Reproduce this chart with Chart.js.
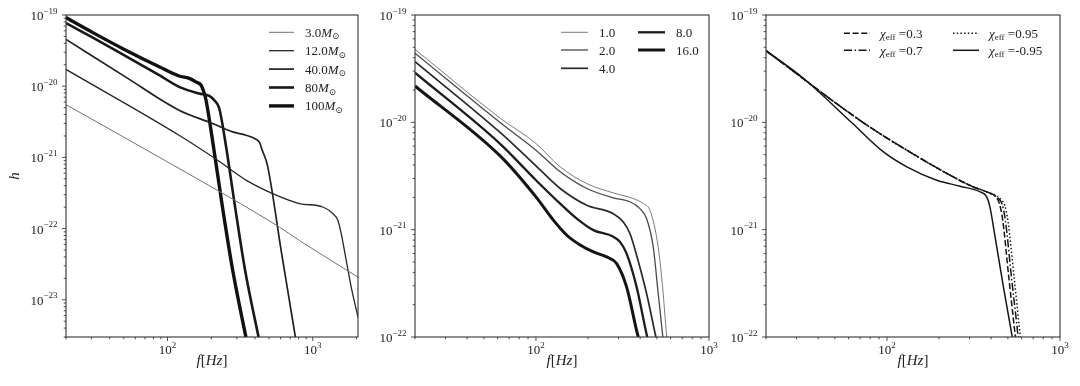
<!DOCTYPE html>
<html>
<head>
<meta charset="utf-8">
<script src="https://cdn.jsdelivr.net/npm/chart.js@4"></script>
<style>
  html, body { margin: 0; padding: 0; background: #fff; }
  #wrap { position: relative; width: 1080px; height: 386px; }
  canvas { position: absolute; top: 0; }
</style>
</head>
<body>
<div id="wrap">
  <canvas id="c1" width="360" height="386" style="left:0px"></canvas>
  <canvas id="c2" width="360" height="386" style="left:360px"></canvas>
  <canvas id="c3" width="360" height="386" style="left:720px"></canvas>
</div>
<script>
// ---- panel 1 : total mass ----
const massLabels = ['3.0', '12.0', '40.0', '80', '100'];
const f_m3   = [20, 120, 589, 809, 2048];
const h_m3   = [5.5e-21, 7.0e-22, 1.05e-22, 6.8e-23, 2.08e-23];
const f_m12  = [20, 120, 204, 266, 347, 530, 809, 1172, 1374, 1487, 1570, 1698, 1839, 2048];
const h_m12  = [1.72e-20, 2.05e-21, 1.02e-21, 7.0e-22, 4.8e-22, 3.1e-22, 2.25e-22, 2.01e-22, 1.63e-22, 1.31e-22, 8.5e-23, 3.6e-23, 1.51e-23, 5.7e-24];
const f_m40  = [20, 51.6, 120, 204, 281, 347, 407, 429, 449, 487, 607, 760, 835];
const h_m40  = [4.55e-20, 1.34e-20, 4.6e-21, 3.0e-21, 2.28e-21, 2.05e-21, 1.8e-21, 1.64e-21, 1.26e-21, 7.8e-22, 4.8e-23, 2.95e-24, 9.5e-25];
const f_m80  = [20, 30.4, 51.6, 87.7, 120, 165, 194, 212, 227, 249, 292, 342, 424, 460];
const h_m80  = [7.7e-20, 4.85e-20, 2.65e-20, 1.43e-20, 9.8e-21, 7.9e-21, 7.3e-21, 6.2e-21, 4.9e-21, 1.74e-21, 2.0e-22, 2.6e-23, 2.95e-24, 1.3e-24];
const f_m100 = [20, 30.4, 51.6, 87.7, 120, 141, 157, 170, 176, 184, 204, 239, 281, 347, 380];
const h_m100 = [9.2e-20, 5.7e-20, 3.2e-20, 1.87e-20, 1.39e-20, 1.29e-20, 1.15e-20, 1.04e-20, 8.8e-21, 6.4e-21, 1.74e-21, 2.0e-22, 2.6e-23, 2.95e-24, 1.2e-24];

// ---- panel 2 : mass ratio ----
const ratioLabels = ['1.0', '2.0', '4.0', '8.0', '16.0'];
const f_q1  = [20, 62.3, 100, 138, 196.7, 280, 365, 416.9, 455.5, 497.6, 520, 543.5, 568, 580.7];
const h_q1  = [4.78e-20, 1.09e-20, 6.35e-21, 3.85e-21, 2.69e-21, 2.2e-21, 1.95e-21, 1.75e-21, 1.52e-21, 8.6e-22, 5.19e-22, 2.54e-22, 1.07e-22, 8.1e-23];
const f_q2  = [20, 62.3, 100, 138, 196.7, 280, 349.3, 398.9, 435.8, 476.1, 508.7, 538.7, 548.3];
const h_q2  = [4.40e-20, 9.9e-21, 5.5e-21, 3.46e-21, 2.42e-21, 1.98e-21, 1.82e-21, 1.57e-21, 1.27e-21, 6.9e-22, 2.54e-22, 1.07e-22, 8.1e-23];
const f_q4  = [20, 62.3, 100, 138, 196.7, 280, 319.8, 349.3, 381.6, 435.8, 493.3, 508.7];
const h_q4  = [3.67e-20, 8.0e-21, 3.93e-21, 2.42e-21, 1.69e-21, 1.41e-21, 1.18e-21, 9.2e-22, 5.78e-22, 2.54e-22, 1.0e-22, 8.1e-23];
const f_q8  = [20, 62.3, 100, 138, 172.2, 214.8, 280, 306, 334, 381.6, 439.6, 455.5];
const h_q8  = [2.9e-20, 6.27e-21, 2.89e-21, 1.75e-21, 1.27e-21, 9.9e-22, 8.6e-22, 7.69e-22, 5.98e-22, 2.93e-22, 1.0e-22, 8.1e-23];
const f_q16 = [20, 62.3, 100, 126.4, 150.8, 180, 214.8, 256.4, 292.7, 334, 390, 407.8];
const h_q16 = [2.18e-20, 4.84e-21, 2.02e-21, 1.22e-21, 8.87e-22, 7.2e-22, 6.2e-22, 5.57e-22, 4.83e-22, 2.93e-22, 1.0e-22, 8.1e-23];

// ---- panel 3 : effective spin ----
const chiLabels = ['0.3', '0.7', '0.95', '-0.95'];
// the three positive spins share the early part
const f_chiBase = [20, 73.2, 130.3, 241.7, 316, 377.4];
const h_chiBase = [4.65e-20, 9.9e-21, 5.5e-21, 3.1e-21, 2.5e-21, 2.25e-21];
const f_chi03  = [421.6, 446.6, 466.9, 505.6, 552.4, 562.3];
const h_chi03  = [2.05e-21, 1.75e-21, 1.22e-21, 3.63e-22, 1.0e-22, 7.8e-23];
const f_chi07  = [440.7, 462.7, 483.7, 523.9, 572.3, 580.1];
const h_chi07  = [1.95e-21, 1.73e-21, 1.21e-21, 3.63e-22, 1.0e-22, 7.8e-23];
const f_chi095 = [460.8, 479.4, 501.1, 542.7, 590.3, 600.9];
const h_chi095 = [1.88e-21, 1.69e-21, 1.18e-21, 3.63e-22, 1.0e-22, 7.8e-23];
const f_chiNeg = [20, 33.0, 62.7, 95.5, 130.3, 194.1, 264.8, 345.4, 377.4, 393.6, 412.4, 471, 526.1, 542.7];
const h_chiNeg = [4.65e-20, 2.56e-20, 9.9e-21, 5.3e-21, 3.85e-21, 2.89e-21, 2.54e-21, 2.25e-21, 2.02e-21, 1.63e-21, 1.06e-21, 2.93e-22, 1.07e-22, 8.1e-23];

const SERIF = '"Liberation Serif", "DejaVu Serif", serif';
const INK = '#222';

const isDecade = v => Math.abs(Math.log10(v) - Math.round(Math.log10(v))) < 1e-6;

// 1..9 x 10^n inside [min, max]
function logTicks(min, max) {
    const out = [];
    for (let e = Math.floor(Math.log10(min)) - 1; e <= Math.ceil(Math.log10(max)); e++) {
        for (let m = 1; m < 10; m++) {
            const v = m * Math.pow(10, e);
            if (v >= min * 0.9999 && v <= max * 1.0001) out.push({ value: v });
        }
    }
    return out;
}

// "10" with a raised exponent, like mathtext
function powerLabel(ctx, v, x, y, align) {
    const exp = String(Math.round(Math.log10(v))).replace('-', '\u2212');
    ctx.font = '13px ' + SERIF;
    const wBase = ctx.measureText('10').width;
    ctx.font = '9px ' + SERIF;
    const wExp = ctx.measureText(exp).width;
    const x0 = align === 'right' ? x - wBase - wExp : x - (wBase + wExp) / 2;
    ctx.font = '13px ' + SERIF;
    ctx.fillText('10', x0, y);
    ctx.font = '9px ' + SERIF;
    ctx.fillText(exp, x0 + wBase, y - 6.5);
}

// mixed italic / upright / subscript text, left edge at x, y = visual middle
function drawRich(ctx, segs, x, y, size) {
    size = size || 13;
    ctx.fillStyle = INK;
    ctx.textBaseline = 'alphabetic';
    ctx.textAlign = 'left';
    segs.forEach(([txt, kind]) => {
        if (kind === 's') {
            ctx.font = Math.round(size * 0.7) + 'px ' + SERIF;
            ctx.fillText(txt, x, y + size * 0.54);
        } else {
            ctx.font = (kind === 'i' ? 'italic ' : '') + size + 'px ' + SERIF;
            ctx.fillText(txt, x, y + size * 0.35);
        }
        x += ctx.measureText(txt).width;
    });
    return x;
}

function richWidth(ctx, segs, size) {
    ctx.save();
    const end = drawRich({ fillText() {}, measureText: t => ctx.measureText(t), set font(f) { ctx.font = f; } }, segs, 0, 0, size);
    ctx.restore();
    return end;
}

const xTitle = [['f', 'i'], ['[', 'n'], ['Hz', 'i'], [']', 'n']];

// tick marks (long for decades), decade labels, x title and the box round the plot
const axesPlugin = {
    id: 'axesBox',
    afterDatasetsDraw(chart) {
        const { ctx, chartArea: a, scales } = chart;
        ctx.save();
        ctx.strokeStyle = INK;
        ctx.lineWidth = 0.8;
        ctx.beginPath();
        scales.x.ticks.forEach(t => {
            const px = scales.x.getPixelForValue(t.value);
            const len = isDecade(t.value) ? 4 : 2.3;
            ctx.moveTo(px, a.bottom); ctx.lineTo(px, a.bottom + len);
        });
        scales.y.ticks.forEach(t => {
            const py = scales.y.getPixelForValue(t.value);
            const len = isDecade(t.value) ? 4 : 2.3;
            ctx.moveTo(a.left, py); ctx.lineTo(a.left - len, py);
        });
        ctx.stroke();
        ctx.lineWidth = 1.1;
        ctx.strokeStyle = '#333';
        ctx.strokeRect(a.left, a.top, a.right - a.left, a.bottom - a.top);

        ctx.fillStyle = INK;
        ctx.textBaseline = 'alphabetic';
        ctx.textAlign = 'left';
        scales.x.ticks.filter(t => isDecade(t.value)).forEach(t => {
            powerLabel(ctx, t.value, scales.x.getPixelForValue(t.value), a.bottom + 17, 'center');
        });
        scales.y.ticks.filter(t => isDecade(t.value)).forEach(t => {
            powerLabel(ctx, t.value, a.left - 8.5, scales.y.getPixelForValue(t.value) + 5, 'right');
        });

        const w = richWidth(ctx, xTitle, 15);
        drawRich(ctx, xTitle, (a.left + a.right) / 2 - w / 2, a.bottom + 23, 15);
        ctx.restore();
    }
};

// matplotlib-like legend inside the axes
const legendLayout = {
    c1: { len: 25, gap: 11, items: [0, 1, 2, 3, 4].map(i => ({ ds: i, x: 269, y: 32.3 + 18.4 * i })) },
    c2: { len: 27, gap: 11, items: [
        { ds: 0, x: 201, y: 32.3 }, { ds: 1, x: 201, y: 50 }, { ds: 2, x: 201, y: 68.3 },
        { ds: 3, x: 278, y: 32.3 }, { ds: 4, x: 278, y: 50 }] },
    c3: { len: 26, gap: 10, items: [
        { ds: 0, x: 124, y: 33.3 }, { ds: 1, x: 124, y: 50.3 },
        { ds: 2, x: 233, y: 33.3 }, { ds: 3, x: 233, y: 50.3 }] }
};

const legendPlugin = {
    id: 'mplLegend',
    afterDraw(chart) {
        const lay = legendLayout[chart.canvas.id];
        const ctx = chart.ctx;
        lay.items.forEach(it => {
            const ds = chart.data.datasets[it.ds];
            ctx.save();
            ctx.strokeStyle = ds.borderColor;
            ctx.lineWidth = ds.borderWidth;
            ctx.setLineDash(ds.borderDash || []);
            ctx.beginPath();
            ctx.moveTo(it.x, it.y);
            ctx.lineTo(it.x + lay.len, it.y);
            ctx.stroke();
            ctx.restore();
            drawRich(ctx, ds.rich, it.x + lay.len + lay.gap, it.y, 13);
        });
    }
};

function makeChart(id, cfg) {
    const titleFont = { family: SERIF, size: 15, style: 'italic' };
    return new Chart(document.getElementById(id), {
        type: 'line',
        data: {
            datasets: cfg.series.map(s => ({
                label: s.label,
                rich: s.rich,
                data: s.f.map((f, i) => ({ x: f, y: s.h[i] })),
                borderColor: s.color,
                borderWidth: s.width,
                borderDash: s.dash || [],
                pointRadius: 0,
                fill: false,
                cubicInterpolationMode: 'monotone'
            }))
        },
        options: {
            responsive: false,
            animation: false,
            events: [],
            layout: { padding: cfg.pad },
            plugins: { legend: { display: false }, tooltip: { enabled: false } },
            scales: {
                x: {
                    type: 'logarithmic', min: cfg.xMin, max: cfg.xMax,
                    afterBuildTicks: ax => { ax.ticks = logTicks(ax.min, ax.max); },
                    afterFit: ax => { ax.height = cfg.xH; },
                    grid: { display: false, drawTicks: false },
                    border: { display: false },
                    ticks: { display: false, autoSkip: false },
                    title: { display: false }
                },
                y: {
                    type: 'logarithmic', min: cfg.yMin, max: cfg.yMax,
                    afterBuildTicks: ax => { ax.ticks = logTicks(ax.min, ax.max); },
                    afterFit: ax => { ax.width = cfg.yW; },
                    grid: { display: false, drawTicks: false },
                    border: { display: false },
                    ticks: { display: false, autoSkip: false },
                    title: { display: !!cfg.yTitle, text: cfg.yTitle || '', color: INK, font: titleFont, padding: { top: 6, bottom: 0 } }
                }
            }
        },
        plugins: [axesPlugin, legendPlugin]
    });
}

const msun = v => [[v, 'n'], ['M', 'i'], ['\u2299', 's']];
const chi = v => [['\u03C7', 'i'], ['eff', 's'], [' =' + v, 'n']];

makeChart('c1', {
    xMin: 20, xMax: 2048, yMin: 3e-24, yMax: 1e-19, yTitle: 'h',
    pad: { left: 0, right: 2, top: 15, bottom: 0 }, yW: 66, xH: 49,
    series: [
        { label: massLabels[0] + 'M\u2299', rich: msun(massLabels[0]), f: f_m3,   h: h_m3,   color: '#707070', width: 1 },
        { label: massLabels[1] + 'M\u2299', rich: msun(massLabels[1]), f: f_m12,  h: h_m12,  color: '#262626', width: 1.3 },
        { label: massLabels[2] + 'M\u2299', rich: msun(massLabels[2]), f: f_m40,  h: h_m40,  color: '#202020', width: 1.7 },
        { label: massLabels[3] + 'M\u2299', rich: msun(massLabels[3]), f: f_m80,  h: h_m80,  color: '#181818', width: 2.6 },
        { label: massLabels[4] + 'M\u2299', rich: msun(massLabels[4]), f: f_m100, h: h_m100, color: '#111111', width: 3.4 }
    ]
});

makeChart('c2', {
    xMin: 20, xMax: 1000, yMin: 1e-22, yMax: 1e-19,
    pad: { left: 0, right: 11, top: 15, bottom: 0 }, yW: 55, xH: 49,
    series: [
        { label: ratioLabels[0], rich: [[ratioLabels[0], 'n']], f: f_q1,  h: h_q1,  color: '#7a7a7a', width: 1 },
        { label: ratioLabels[1], rich: [[ratioLabels[1], 'n']], f: f_q2,  h: h_q2,  color: '#4a4a4a', width: 1.3 },
        { label: ratioLabels[2], rich: [[ratioLabels[2], 'n']], f: f_q4,  h: h_q4,  color: '#2a2a2a', width: 1.7 },
        { label: ratioLabels[3], rich: [[ratioLabels[3], 'n']], f: f_q8,  h: h_q8,  color: '#1c1c1c', width: 2.3 },
        { label: ratioLabels[4], rich: [[ratioLabels[4], 'n']], f: f_q16, h: h_q16, color: '#141414', width: 3 }
    ]
});

makeChart('c3', {
    xMin: 20, xMax: 1000, yMin: 1e-22, yMax: 1e-19,
    pad: { left: 0, right: 20, top: 15, bottom: 0 }, yW: 46, xH: 49,
    series: [
        { label: 'chi_eff =' + chiLabels[0], rich: chi(chiLabels[0]), f: f_chiBase.concat(f_chi03),  h: h_chiBase.concat(h_chi03),  color: '#151515', width: 1.5, dash: [6, 2.6] },
        { label: 'chi_eff =' + chiLabels[1], rich: chi(chiLabels[1]), f: f_chiBase.concat(f_chi07),  h: h_chiBase.concat(h_chi07),  color: '#151515', width: 1.5, dash: [8, 2.5, 1.5, 2.5] },
        { label: 'chi_eff =' + chiLabels[2], rich: chi(chiLabels[2]), f: f_chiBase.concat(f_chi095), h: h_chiBase.concat(h_chi095), color: '#151515', width: 1.5, dash: [1.5, 2.2] },
        { label: 'chi_eff =' + chiLabels[3], rich: chi(chiLabels[3]), f: f_chiNeg, h: h_chiNeg, color: '#151515', width: 1.5 }
    ]
});
</script>
</body>
</html>
